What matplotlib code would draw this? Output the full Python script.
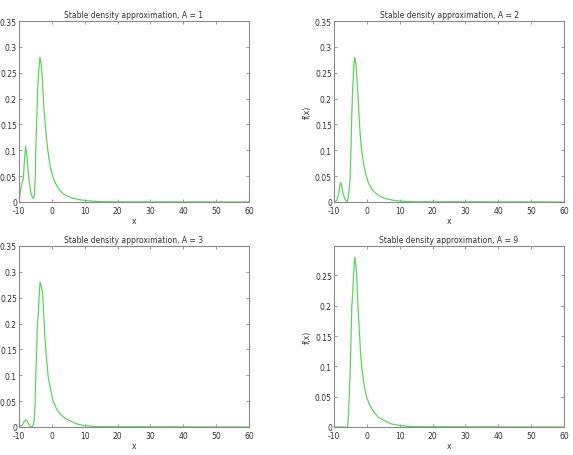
import numpy as np
import matplotlib.pyplot as plt

plt.rcParams['axes.unicode_minus'] = False

# values
x_a1 = [-10, -9.6, -9.0, -8.7, -8.4, -8.0, -7.6, -7.0, -6.4, -5.9, -5.6, -5.3, -5.0, -4.9, -4.6, -4.3,
        -4.0, -3.6, -3.2, -2.8, -2.4, -2.0, -1.6, -1.0, -0.3, 0.5, 1.5, 2.5, 3.5, 4.5, 6.0, 8.0, 10.0,
        12.5, 15.0, 20.0, 60.0]
y_a1 = [0.0, 0.02, 0.04, 0.045, 0.075, 0.108, 0.09, 0.045, 0.018, 0.008, 0.007, 0.015, 0.06, 0.099,
        0.16, 0.22, 0.255, 0.28, 0.265, 0.225, 0.18, 0.15, 0.121, 0.088, 0.063, 0.045, 0.031, 0.022,
        0.016, 0.012, 0.008, 0.005, 0.003, 0.0015, 0.0007, 0.0002, 0.0]

x_a2 = [-10, -9.2, -8.6, -8.2, -8.0, -7.7, -7.3, -6.8, -6.3, -6.0, -5.6, -5.1, -4.8, -4.6, -4.3,
        -4.0, -3.7, -3.3, -2.8, -2.4, -2.07, -1.6, -1.06, -0.3, 0.47, 1.5, 2.5, 4.0, 5.5, 7.5, 9.6,
        12.0, 15.0, 60.0]
y_a2 = [0.0, 0.003, 0.015, 0.032, 0.0375, 0.033, 0.018, 0.007, 0.002, 0.001, 0.01, 0.044, 0.11,
        0.167, 0.22, 0.26, 0.28, 0.265, 0.218, 0.17, 0.134, 0.1, 0.076, 0.053, 0.037, 0.025, 0.018,
        0.011, 0.007, 0.004, 0.002, 0.001, 0.0004, 0.0]

x_a3 = [-10, -9.0, -8.5, -8.0, -7.5, -7.0, -6.5, -6.15, -5.8, -5.4, -5.1, -4.9, -4.6, -4.4, -4.1,
        -3.9, -3.6, -3.2, -2.8, -2.4, -2.1, -1.6, -1.1, -0.3, 0.44, 1.5, 2.5, 4.0, 5.5, 7.5, 9.55,
        12.0, 15.0, 60.0]
y_a3 = [0.0, 0.004, 0.01, 0.014, 0.011, 0.005, 0.001, 0.0, 0.002, 0.012, 0.045, 0.096, 0.155, 0.2,
        0.22, 0.25, 0.28, 0.272, 0.257, 0.21, 0.173, 0.13, 0.096, 0.07, 0.05, 0.034, 0.025, 0.017,
        0.012, 0.006, 0.003, 0.0015, 0.0006, 0.0]

x_a9 = [-10, -5.83, -5.5, -5.1, -4.8, -4.6, -4.3, -4.0, -3.7, -3.4, -3.1, -2.8, -2.4, -2.0, -1.56,
        -0.8, -0.04, 1.0, 2.0, 3.5, 5.55, 7.5, 9.6, 12.0, 15.0, 60.0]
y_a9 = [0.0, 0.0, 0.03, 0.087, 0.15, 0.197, 0.22, 0.255, 0.28, 0.27, 0.252, 0.21, 0.17, 0.13, 0.098,
        0.068, 0.048, 0.035, 0.026, 0.016, 0.0099, 0.005, 0.003, 0.0013, 0.0005, 0.0]

series = [(x_a1, y_a1, 1), (x_a2, y_a2, 2), (x_a3, y_a3, 3), (x_a9, y_a9, 9)]

green = '#5ad65a'
edge = '#8a8a8a'

fig = plt.figure(figsize=(5.73, 4.56), dpi=100)
W, H = 573.0, 456.0
# axes boxes in pixels: left, top, right, bottom
boxes = [(19, 22, 249, 203), (334, 22, 564, 203), (19, 247, 249, 428), (334, 247, 564, 428)]

for i, (xs, ys, A) in enumerate(series):
    l, t, r, b = boxes[i]
    ax = fig.add_axes([l / W, 1 - b / H, (r - l) / W, (b - t) / H])
    ax.plot(xs, ys, color=green, lw=0.9)
    ax.set_xlim(-10, 60)
    ax.set_xticks(np.arange(-10, 61, 10))
    if A == 9:
        ax.set_ylim(0, 0.2985)
        ax.set_yticks(np.arange(0, 0.26, 0.05))
        ylabs = ['0', '0.05', '0.1', '0.15', '0.2', '0.25']
    else:
        ax.set_ylim(0, 0.35)
        ax.set_yticks(np.arange(0, 0.351, 0.05))
        ylabs = ['0', '0.05', '0.1', '0.15', '0.2', '0.25', '0.3', '0.35']
    ax.set_yticklabels(ylabs)
    ax.tick_params(direction='in', top=True, right=True, labelsize=5.5, length=2.5,
                   width=0.6, color=edge, labelcolor='#333333')
    ax.tick_params(axis='x', pad=3)
    ax.tick_params(axis='y', pad=1.5)
    for s in ax.spines.values():
        s.set_color(edge)
        s.set_linewidth(0.8)
    ax.set_title('Stable density approximation, A = %d' % A, fontsize=5.5, pad=3, color='#333333')
    ax.set_xlabel('x', fontsize=5.5, labelpad=0.5, color='#333333')
    if i % 2 == 1:
        ax.set_ylabel('f(x)', fontsize=5.5, labelpad=2, color='#333333')

fig.savefig('out.png', dpi=100)
